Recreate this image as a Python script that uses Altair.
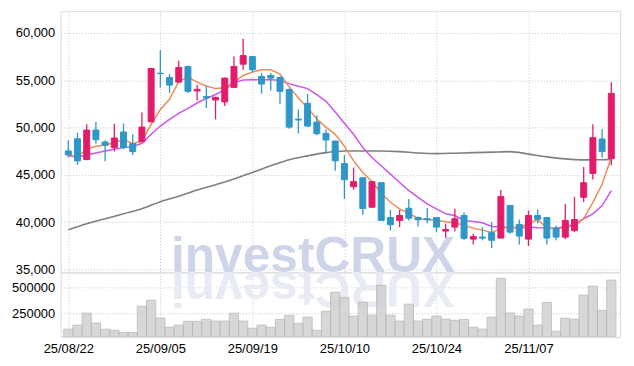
import altair as alt
import pandas as pd

dates = ["25/08/22","25/08/25","25/08/26","25/08/27","25/08/28","25/08/29",
         "25/09/01","25/09/02","25/09/03","25/09/04","25/09/05",
         "25/09/08","25/09/09","25/09/10","25/09/11","25/09/12",
         "25/09/15","25/09/16","25/09/17","25/09/18","25/09/19",
         "25/09/22","25/09/23","25/09/24","25/09/25","25/09/26",
         "25/09/29","25/09/30","25/10/01","25/10/02","25/10/10",
         "25/10/13","25/10/14","25/10/15","25/10/16","25/10/17",
         "25/10/20","25/10/21","25/10/22","25/10/23","25/10/24",
         "25/10/27","25/10/28","25/10/29","25/10/30","25/10/31",
         "25/11/03","25/11/04","25/11/05","25/11/06","25/11/07",
         "25/11/10","25/11/11","25/11/12","25/11/13","25/11/14",
         "25/11/17","25/11/18","25/11/19","25/11/20"]

opens = [47530, 48820, 46620, 49740, 48480, 47880, 49530, 48300, 48510, 50610,
         55750, 55290, 54810, 56450, 53870, 53280, 52920, 52710, 54250, 56700,
         57510, 55410, 55510, 55300, 54010, 50900, 52570, 50580, 49390, 48580,
         46200, 43750, 44700, 41580, 44170, 40490, 40180, 41470, 40490, 40360,
         40490, 39060, 39480, 40700, 38210, 38420, 38890, 38320, 41770, 39760,
         38210, 40700, 40490, 39370, 38420, 39130, 42630, 45150, 48790, 46720]
highs = [48650, 49450, 50340, 50580, 48660, 50400, 50440, 49290, 51600, 56300,
         58210, 55650, 57060, 56570, 54540, 54360, 53250, 55300, 57510, 59400,
         57520, 55760, 55760, 55410, 54120, 51910, 53550, 51280, 49810, 48600,
         47110, 45780, 44700, 44300, 44200, 41300, 41300, 42460, 40600, 41510,
         40500, 39830, 41410, 41020, 38780, 39480, 40000, 43400, 41800, 40280,
         41230, 41330, 40500, 39650, 41930, 42670, 45820, 50340, 49840, 54780]
lows = [46830, 46060, 46550, 48300, 46450, 47460, 47710, 47110, 48450, 50550,
        54250, 53660, 54710, 53660, 52860, 52080, 50860, 52290, 54200, 56110,
        55830, 53590, 53910, 52500, 49870, 49390, 50080, 49180, 47290, 45430,
        42460, 43430, 40780, 41550, 40150, 39130, 39470, 40180, 39550, 39890,
        38950, 38360, 39020, 38150, 37630, 38080, 37270, 38290, 38780, 37630,
        37480, 39890, 37630, 38080, 38210, 38950, 42140, 44520, 46830, 46030]
closes = [47110, 46480, 49740, 48720, 48130, 48900, 47880, 47460, 50050, 56250,
          55700, 54490, 56360, 53830, 54040, 53130, 53200, 55230, 56460, 57610,
          56110, 54600, 55230, 53830, 50050, 50800, 50160, 49350, 48690, 46480,
          44490, 44280, 41440, 44280, 40180, 39730, 40700, 40420, 40250, 40250,
          39480, 39230, 40360, 38290, 38470, 38320, 38080, 42700, 38950, 38530,
          40700, 40310, 38320, 38420, 40180, 40280, 44170, 48930, 47460, 53620]
volumes = [96000, 135000, 250000, 154000, 95000, 85000, 65000, 63000, 318000, 375000,
           203000, 115000, 135000, 172000, 172000, 190000, 174000, 174000, 250000, 174000,
           104000, 135000, 115000, 190000, 230000, 152000, 212000, 85000, 268000, 452000,
           403000, 222000, 355000, 231000, 520000, 230000, 174000, 337000, 174000, 192000,
           222000, 193000, 181000, 191000, 115000, 96000, 212000, 587000, 252000, 222000,
           290000, 135000, 355000, 75000, 202000, 192000, 425000, 511000, 278000, 570000]

ma_short = [47080, 46930, 47710, 48030, 48160, 48400, 48760, 48300, 48580, 50340,
            51910, 53000, 54880, 55340, 54800, 54400, 54120, 54200, 54810, 55510,
            55860, 56110, 56110, 55650, 54300, 53130, 52110, 50910, 50050, 49290,
            48030, 46480, 45250, 44290, 43050, 42100, 41410, 40960, 40360, 40280,
            40200, 40040, 39950, 39650, 39370, 39160, 38900, 39370, 39440, 39470,
            39830, 40270, 39390, 39310, 39450, 39620, 40350, 42100, 44000, 46830]
ma_mid = [47010, 46900, 47110, 47320, 47530, 47710, 47880, 47990, 48340, 49290,
          50160, 50860, 51500, 52030, 52600, 53080, 53500, 54000, 54750, 55020,
          55060, 55060, 55060, 54990, 54650, 54360, 54120, 53490, 52780, 51650,
          50450, 49290, 47880, 46830, 45960, 45080, 44190, 43330, 42630, 41930,
          41410, 40880, 40700, 40180, 40070, 39940, 39550, 39480, 39440, 39390,
          39480, 39410, 39370, 39370, 39550, 39760, 40360, 40880, 41750, 43330]
ma_long_idx = [0, 2, 4, 6, 8, 10, 12, 14, 16, 18, 20, 22, 24, 26, 28, 30, 32, 34,
               36, 38, 40, 42, 44, 46, 48, 50, 52, 54, 56, 58, 59]
ma_long = [39200, 39830, 40360, 40880, 41410, 42170, 42750, 43400, 43960, 44560,
           45250, 45960, 46600, 47010, 47350, 47530, 47530, 47530, 47460, 47320,
           47250, 47290, 47350, 47400, 47460, 47190, 46900, 46690, 46590, 46600, 46640]

watermark = "investCRUX"
price_ticks = [35000, 40000, 45000, 50000, 55000, 60000]
volume_ticks = [250000, 500000]
x_ticks = [0, 10, 20, 30, 40, 50]

UP = "#E21C6B"
DOWN = "#2F97C8"
GRID = "#C3C8DC"
FONT = "DejaVu Sans Condensed"
LABEL_SIZE = 13

n = len(dates)
df = pd.DataFrame({
    "idx": list(range(n)), "date": dates, "open": opens, "high": highs,
    "low": lows, "close": closes, "volume": volumes,
    "ma_short": ma_short, "ma_mid": ma_mid,
})
df["dir"] = ["up" if c >= o else "down" for o, c in zip(opens, closes)]
df_long = pd.DataFrame({"idx": ma_long_idx, "ma_long": ma_long})

label_js = "[" + ",".join("'%s'" % d for d in dates) + "][datum.value]"
x_domain = [-0.29, 59.41]

x_price = alt.X("idx:Q", scale=alt.Scale(domain=x_domain, nice=False, zero=False),
                axis=alt.Axis(values=x_ticks, labels=False, ticks=False, domain=False,
                              grid=True, gridColor=GRID, gridDash=[1, 2], title=None))
y_scale = alt.Scale(domain=[34685, 62311], nice=False, zero=False)
y_axis = alt.Axis(values=price_ticks, format=",.0f", ticks=False, domain=False,
                  grid=True, gridColor=GRID, gridDash=[1, 2], title=None,
                  labelPadding=6, labelFontSize=LABEL_SIZE)
color_enc = alt.Color("dir:N", scale=alt.Scale(domain=["up", "down"], range=[UP, DOWN]),
                      legend=None)

base = alt.Chart(df)

wm = alt.Chart(pd.DataFrame({"t": [watermark]})).mark_text(
    font="Liberation Sans", fontWeight="bold", fontSize=50, color="#CFD5E9",
    align="center", baseline="alphabetic"
).encode(text="t:N", x=alt.value(254), y=alt.value(263))

long_line = alt.Chart(df_long).mark_line(color="#7F7F7F", strokeWidth=1.6,
                                          interpolate="monotone").encode(
    x=x_price, y=alt.Y("ma_long:Q", scale=y_scale, axis=y_axis))
mid_line = base.mark_line(color="#CC55EE", strokeWidth=1.5).encode(
    x=x_price, y=alt.Y("ma_mid:Q", scale=y_scale, axis=y_axis))
short_line = base.mark_line(color="#F08A55", strokeWidth=1.5).encode(
    x=x_price, y=alt.Y("ma_short:Q", scale=y_scale, axis=y_axis))
wicks = base.mark_rule(strokeWidth=1.3).encode(
    x=x_price, y=alt.Y("low:Q", scale=y_scale, axis=y_axis), y2="high:Q",
    color=color_enc)
bodies = base.mark_bar(size=6, strokeWidth=1).encode(
    x=x_price, y=alt.Y("open:Q", scale=y_scale, axis=y_axis), y2="close:Q",
    color=color_enc, stroke=color_enc)

price = alt.layer(wm, long_line, mid_line, short_line, wicks, bodies).properties(
    width=563, height=263)

x_vol = alt.X("x0:Q", scale=alt.Scale(domain=x_domain, nice=False, zero=False),
              axis=alt.Axis(values=x_ticks, labelExpr=label_js, ticks=False, domain=False,
                            grid=True, gridColor=GRID, gridDash=[1, 2], title=None,
                            labelPadding=6, labelFontSize=LABEL_SIZE))
vol_scale = alt.Scale(domain=[20000, 644000], nice=False, zero=False, clamp=True)

refl = alt.Chart(pd.DataFrame({"t": [watermark[::-1]]})).mark_text(
    font="Liberation Sans", fontWeight="bold", fontSize=50, color="#E8EBF3",
    align="center", baseline="alphabetic", angle=180
).encode(text="t:N", x=alt.value(254), y=alt.value(0))

vol_bars = base.transform_calculate(x0="datum.idx - 0.5", x1="datum.idx + 0.5").mark_bar(
    clip=True, color="#CDCDCD", opacity=0.8, stroke="#B5B5B5", strokeWidth=1
).encode(
    x=x_vol, x2="x1:Q",
    y=alt.Y("volume:Q", scale=vol_scale,
            axis=alt.Axis(values=volume_ticks, format="d", ticks=False, domain=False,
                          grid=True, gridColor=GRID, gridDash=[1, 2], title=None,
                          labelPadding=6, labelFontSize=LABEL_SIZE)),
    y2=alt.datum(0))

volume = alt.layer(refl, vol_bars).properties(width=563, height=65)

chart = alt.vconcat(price, volume, spacing=0, bounds="flush").resolve_scale(
    x="shared", y="independent"
).properties(
    padding={"left": 3, "top": 1, "right": 5, "bottom": 5}
).configure_view(
    stroke="#CCCCCC", strokeWidth=1
).configure_axis(
    labelFont=FONT, labelColor="#333333"
).configure(background="white")

chart.save("out.html", embed_options={"renderer": "svg", "actions": False})
